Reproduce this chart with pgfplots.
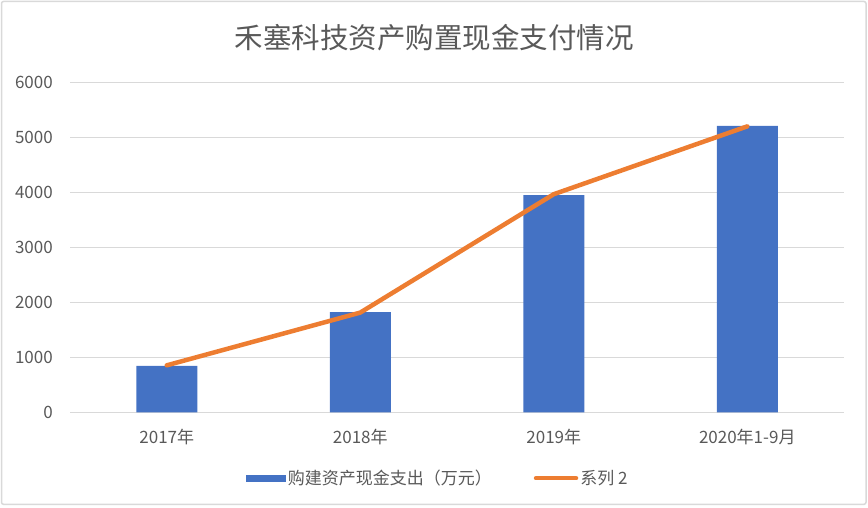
\documentclass[border=0pt]{standalone}
\usepackage{fontspec}
\setmainfont{Noto Sans CJK SC}
\usepackage{pgfplots}
\pgfplotsset{compat=1.18}
\definecolor{barblue}{HTML}{4472C4}
\definecolor{lineorange}{HTML}{ED7D31}
\definecolor{gridgray}{HTML}{D9D9D9}
\definecolor{textgray}{HTML}{595959}

\begin{document}
\begin{tikzpicture}
\path[use as bounding box] (0,0) rectangle (868bp,508bp);
\draw[gridgray, line width=1.5bp, rounded corners=2bp] (1.5bp,3.7bp) rectangle (866bp,506.5bp);
\node[text=textgray, font=\fontsize{28.5bp}{32bp}\selectfont] at (434bp,470.5bp) {禾塞科技资产购置现金支付情况};

\begin{axis}[
    at={(70bp,95.7bp)}, anchor=south west,
    scale only axis,
    width=774bp, height=329.6bp,
    xmin=-0.5, xmax=3.5,
    ymin=0, ymax=6000,
    xtick={0,1,2,3},
    xticklabels={2017年,2018年,2019年,2020年1-9月},
    ytick={0,1000,2000,3000,4000,5000,6000},
    /pgf/number format/assume math mode=true,
    /pgf/number format/1000 sep={},
    ymajorgrids=true,
    grid style={gridgray, line width=1.5bp},
    axis line style={draw=none},
    major tick length=0pt,
    tick label style={text=textgray, font=\fontsize{17bp}{20bp}\selectfont},
    xticklabel style={anchor=center, yshift=-24.4bp},
    yticklabel style={anchor=east, inner sep=0pt, xshift=-17bp},
    clip=false,
    legend columns=2,
    legend style={at={(0.475,-0.2)}, anchor=center, draw=none, fill=none,
        font=\fontsize{17bp}{20bp}\selectfont, text=textgray,
        /tikz/every even column/.append style={column sep=40bp}},
    legend cell align=left,
]
\addplot[ybar, bar width=61bp, bar shift=0pt, fill=barblue, draw=none,
    legend image code/.code={\fill[barblue] (0bp,-3.5bp) rectangle (40bp,3.5bp);}]
    coordinates {(0,845) (1,1825) (2,3955) (3,5215)};
\addlegendentry{购建资产现金支出（万元）}
\addplot[lineorange, line width=4.5bp, line cap=round, line join=round, mark=none,
    legend image code/.code={\draw[lineorange, line width=4.5bp, line cap=round] (2bp,0) -- (42bp,0);}]
    coordinates {(0,855) (1,1815) (2,3970) (3,5205)};
\addlegendentry{系列 2}
\end{axis}
\end{tikzpicture}
\end{document}
